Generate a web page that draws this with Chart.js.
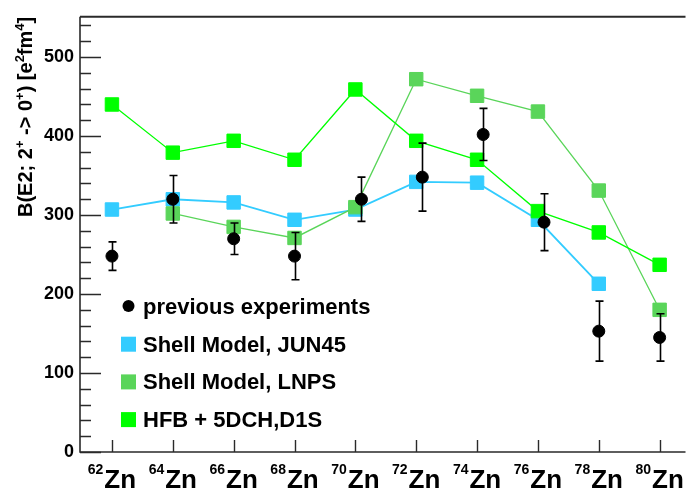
<!DOCTYPE html>
<html>
<head>
<meta charset="utf-8">
<title>B(E2) systematics of Zn isotopes</title>
<script src="https://cdn.jsdelivr.net/npm/chart.js"></script>
<style>
  html, body { margin: 0; padding: 0; background: #fff; }
  #wrap { position: relative; width: 696px; height: 492px; }
</style>
</head>
<body>
<div id="wrap"><canvas id="chart" width="696" height="492"></canvas></div>
<script>
// Zinc isotopes on the x axis
const massNumbers = [62, 64, 66, 68, 70, 72, 74, 76, 78, 80];
const isotopeSymbol = 'Zn';

// Measured B(E2; 2+ -> 0+) in e^2 fm^4 (70-76 are plotted a little right of the tick)
const expMass = [62, 64, 66, 68, 70.2, 72.2, 74.2, 76.2, 78, 80];
const expValues = [248, 320, 270, 248, 320, 348, 402, 291, 153, 145];
const expErrors = [18, 30, 20, 30, 28, 43, 33, 36, 38, 30];

// Calculations
const jun45Values = [307, 320, 316, 294, 307, 342, 341, 294, 213, null];
const lnpsValues = [null, 302, 285, 271, 310, 472, 451, 431, 331, 180];
const hfbValues = [440, 379, 394, 370, 459, 394, 370, 305, 278, 237];

const legendLabels = ['previous experiments', 'Shell Model, JUN45', 'Shell Model, LNPS', 'HFB + 5DCH,D1S'];

const FONT = '"Liberation Sans", Arial, Helvetica, sans-serif';
const AXIS_COLOR = '#2a2a2a';

function points(xs, ys) {
  return xs.map((x, i) => ({ x: x, y: ys[i] }));
}

function theory(label, values, color, width, order) {
  return {
    label: label,
    data: points(massNumbers, values),
    borderColor: color,
    backgroundColor: color,
    borderWidth: width,
    pointStyle: 'rect',
    pointRadius: 9.5,
    pointBorderWidth: 1,
    pointBackgroundColor: color,
    pointBorderColor: color,
    tension: 0,
    order: order
  };
}

// axis frame, inward ticks, isotope labels and the y title
const framePlugin = {
  id: 'frame',
  beforeDatasetsDraw(chart) {
    const ctx = chart.ctx;
    const a = chart.chartArea;
    const xs = chart.scales.x;
    const ys = chart.scales.y;
    ctx.save();
    ctx.strokeStyle = AXIS_COLOR;

    ctx.lineWidth = 2;
    ctx.beginPath();
    ctx.moveTo(a.left, a.top);
    ctx.lineTo(a.right, a.top);
    ctx.stroke();

    ctx.lineWidth = 1.6;
    ctx.beginPath();
    ctx.moveTo(a.left, a.top);
    ctx.lineTo(a.left, a.bottom);
    ctx.lineTo(a.right, a.bottom);
    ctx.stroke();

    // y ticks: major every 100, minor every 20
    ctx.lineWidth = 1.4;
    ctx.beginPath();
    for (let v = 0; v <= ys.max; v += 20) {
      const py = Math.round(ys.getPixelForValue(v)) + 0.5;
      const len = v % 100 === 0 ? 21 : 11;
      ctx.moveTo(a.left, py);
      ctx.lineTo(a.left + len, py);
    }
    // x ticks at each isotope
    massNumbers.forEach(m => {
      const px = Math.round(xs.getPixelForValue(m)) + 0.5;
      ctx.moveTo(px, a.bottom);
      ctx.lineTo(px, a.bottom - 12);
    });
    ctx.stroke();

    // isotope labels: superscript mass number + symbol
    ctx.fillStyle = '#000';
    ctx.textBaseline = 'alphabetic';
    ctx.textAlign = 'left';
    const supFont = 'bold 14px ' + FONT;
    const symFont = 'bold 26px ' + FONT;
    massNumbers.forEach(m => {
      const px = xs.getPixelForValue(m);
      ctx.font = supFont;
      const wSup = ctx.measureText(String(m)).width;
      ctx.font = symFont;
      const wSym = ctx.measureText(isotopeSymbol).width;
      const start = px - (wSup + 1 + wSym) / 2;
      ctx.font = supFont;
      ctx.fillText(String(m), start, 474);
      ctx.font = symFont;
      ctx.fillText(isotopeSymbol, start + wSup + 1, 488);
    });

    // y title, rotated and aligned to the top of the axis
    const parts = [
      { t: 'B(E2; 2' }, { t: '+', sup: true }, { t: ' -> 0' }, { t: '+', sup: true },
      { t: ') [e' }, { t: '2', sup: true }, { t: 'fm' }, { t: '4', sup: true }, { t: ']' }
    ];
    const mainFont = 'bold 20px ' + FONT;
    const smallFont = 'bold 13px ' + FONT;
    let total = 0;
    parts.forEach(p => {
      ctx.font = p.sup ? smallFont : mainFont;
      p.w = ctx.measureText(p.t).width;
      total += p.w;
    });
    ctx.translate(32, a.top + total);
    ctx.rotate(-Math.PI / 2);
    let pos = 0;
    parts.forEach(p => {
      ctx.font = p.sup ? smallFont : mainFont;
      ctx.fillText(p.t, pos, p.sup ? -8 : 0);
      pos += p.w;
    });
    ctx.restore();
  }
};

// vertical error bars under the measured points
const errorBarPlugin = {
  id: 'errorBars',
  beforeDatasetDraw(chart, args) {
    if (args.index !== 0) return;
    const ctx = chart.ctx;
    const xs = chart.scales.x;
    const ys = chart.scales.y;
    ctx.save();
    ctx.strokeStyle = '#000';
    ctx.lineWidth = 1.6;
    ctx.beginPath();
    expValues.forEach((v, i) => {
      const px = Math.round(xs.getPixelForValue(expMass[i])) + 0.5;
      const top = ys.getPixelForValue(v + expErrors[i]);
      const bot = ys.getPixelForValue(v - expErrors[i]);
      ctx.moveTo(px, top);
      ctx.lineTo(px, bot);
      ctx.moveTo(px - 4, top);
      ctx.lineTo(px + 4, top);
      ctx.moveTo(px - 4, bot);
      ctx.lineTo(px + 4, bot);
    });
    ctx.stroke();
    ctx.restore();
  }
};

// legend inside the frame, no box
const legendPlugin = {
  id: 'insideLegend',
  afterDraw(chart) {
    const ctx = chart.ctx;
    ctx.save();
    ctx.font = 'bold 22px ' + FONT;
    ctx.textBaseline = 'alphabetic';
    ctx.textAlign = 'left';
    chart.data.datasets.forEach((ds, i) => {
      const cy = 306 + i * 37.7;
      ctx.fillStyle = ds.pointBackgroundColor;
      if (ds.pointStyle === 'circle') {
        ctx.beginPath();
        ctx.arc(128.5, cy, 6, 0, Math.PI * 2);
        ctx.fill();
      } else {
        ctx.fillRect(121, cy - 7, 15, 15);
      }
      ctx.fillStyle = '#000';
      ctx.fillText(ds.label, 143, cy + 7.8);
    });
    ctx.restore();
  }
};

const datasets = [
  {
    label: legendLabels[0],
    data: points(expMass, expValues),
    showLine: false,
    pointStyle: 'circle',
    pointRadius: 6,
    pointBorderWidth: 1,
    pointBackgroundColor: '#000',
    pointBorderColor: '#000',
    borderColor: '#000',
    backgroundColor: '#000',
    order: 0
  },
  theory(legendLabels[1], jun45Values, '#33ccff', 1.8, 3),
  theory(legendLabels[2], lnpsValues, '#5ad55a', 1.3, 2),
  theory(legendLabels[3], hfbValues, '#00ff00', 1.3, 1)
];

new Chart(document.getElementById('chart').getContext('2d'), {
  type: 'line',
  data: { datasets: datasets },
  options: {
    responsive: false,
    animation: false,
    devicePixelRatio: 1,
    layout: { padding: { top: 11, right: 0, bottom: 0, left: 0 } },
    plugins: {
      legend: { display: false },
      tooltip: { enabled: false },
      title: { display: false }
    },
    scales: {
      x: {
        type: 'linear',
        min: 60.95,
        max: 80.85,
        grid: { display: false, drawTicks: false },
        border: { display: false },
        ticks: { display: false },
        afterFit: s => { s.height = 40; }
      },
      y: {
        type: 'linear',
        min: 0,
        max: 551,
        grid: { display: false, drawTicks: false },
        border: { display: false },
        ticks: {
          stepSize: 100,
          includeBounds: false,
          padding: 6,
          color: '#000',
          font: { family: FONT, size: 18, weight: 'bold' },
          callback: v => (v % 100 === 0 ? v : '')
        },
        afterFit: s => { s.width = 80; }
      }
    }
  },
  plugins: [framePlugin, errorBarPlugin, legendPlugin]
});
</script>
</body>
</html>
